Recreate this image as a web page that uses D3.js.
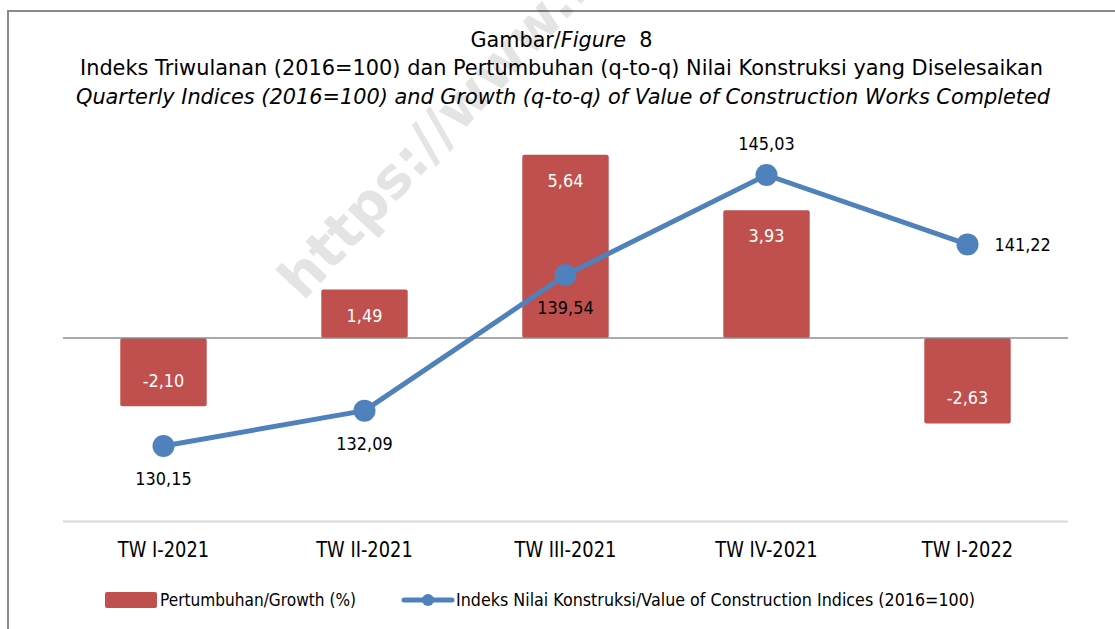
<!DOCTYPE html>
<html>
<head>
<meta charset="utf-8">
<script src="https://cdn.jsdelivr.net/npm/d3@7"></script>
<style>
  body { margin: 0; background: #fff; }
  svg text { font-family: Tahoma, "DejaVu Sans", sans-serif; }
</style>
</head>
<body>
<div id="chart"></div>
<script>
// quarters on the x axis
var quarters = ["TW I-2021", "TW II-2021", "TW III-2021", "TW IV-2021", "TW I-2022"];
// q-to-q growth (%), bars
var growth = [-2.10, 1.49, 5.64, 3.93, -2.63];
// construction value index (2016=100), line
var indices = [130.15, 132.09, 139.54, 145.03, 141.22];
// where each index label sits relative to its point
var indexLabelPos = ["below", "below", "below", "above", "right"];

var W = 1115, H = 629;
var RED = "#C0504D", BLUE = "#4F81BD";
var SQUEEZE = 0.87; // Tahoma is a narrower Verdana, DejaVu Sans stands in for it

// Indonesian number style: comma decimal, plain hyphen for negatives
var idLocale = d3.formatLocale({decimal: ",", thousands: ".", grouping: [3], currency: ["", ""], minus: "-"});
var fmt = idLocale.format(".2f");

var svg = d3.select("#chart").append("svg")
    .attr("width", W)
    .attr("height", H);

// outer frame (only left and top visible in the crop)
svg.append("rect")
    .attr("x", 8).attr("y", 11)
    .attr("width", 1300).attr("height", 800)
    .attr("fill", "none")
    .attr("stroke", "#8a8a8a")
    .attr("stroke-width", 2);

// squeeze text horizontally, to a given width or by the default factor
function squeeze(sel, width) {
  sel.each(function() {
    var len = this.getComputedTextLength();
    d3.select(this)
      .attr("textLength", width || len * SQUEEZE)
      .attr("lengthAdjust", "spacingAndGlyphs");
  });
}

// --- watermark
svg.append("text")
    .attr("transform", "translate(303,302) rotate(-47)")
    .attr("font-size", 56)
    .attr("font-weight", "bold")
    .attr("fill", "#000")
    .attr("opacity", 0.1)
    .text("https://www.bps.go.id");

// --- title
var t1 = svg.append("text").attr("x", 561.5).attr("y", 47)
    .attr("text-anchor", "middle").attr("font-size", 22).attr("fill", "#000")
    .attr("xml:space", "preserve");
t1.append("tspan").text("Gambar/");
t1.append("tspan").attr("font-style", "italic").text("Figure");
t1.append("tspan").text("  8");
squeeze(t1, 182);

var t2 = svg.append("text").attr("x", 561.5).attr("y", 75)
    .attr("text-anchor", "middle").attr("font-size", 22).attr("fill", "#000")
    .text("Indeks Triwulanan (2016=100) dan Pertumbuhan (q-to-q) Nilai Konstruksi yang Diselesaikan");
squeeze(t2, 963);

var t3 = svg.append("text").attr("x", 563).attr("y", 104)
    .attr("text-anchor", "middle").attr("font-size", 22).attr("fill", "#000")
    .attr("font-style", "italic")
    .text("Quarterly Indices (2016=100) and Growth (q-to-q) of Value of Construction Works Completed");
squeeze(t3, 974);

// --- scales
var x = d3.scaleBand().domain(quarters).range([63, 1068]).padding(0);
var yBar = d3.scaleLinear().domain([-5.63, 5.63]).range([521, 155]);
var yLine = d3.scaleLinear().domain([120, 150]).range([630.8, 84.5]);
var barW = x.bandwidth() * 0.43;
function cx(d) { return x(d) + x.bandwidth() / 2; }

// bottom category axis line
svg.append("line")
    .attr("x1", x.range()[0]).attr("x2", x.range()[1])
    .attr("y1", 521.5).attr("y2", 521.5)
    .attr("stroke", "#d9d9d9").attr("stroke-width", 2);

// category labels
svg.append("g").selectAll("text")
    .data(quarters)
  .enter().append("text")
    .attr("x", function(d) { return cx(d); })
    .attr("y", 557)
    .attr("text-anchor", "middle")
    .attr("font-size", 20.5)
    .attr("fill", "#000")
    .text(function(d) { return d; })
    .call(squeeze);

// --- bars
var bars = svg.append("g");
bars.selectAll("rect")
    .data(growth)
  .enter().append("rect")
    .attr("x", function(d, i) { return cx(quarters[i]) - barW / 2; })
    .attr("y", function(d) { return yBar(Math.max(0, d)); })
    .attr("width", barW)
    .attr("height", function(d) { return Math.abs(yBar(d) - yBar(0)); })
    .attr("rx", 2)
    .attr("fill", RED);

// zero line drawn over the bars
svg.append("line")
    .attr("x1", x.range()[0]).attr("x2", x.range()[1])
    .attr("y1", yBar(0)).attr("y2", yBar(0))
    .attr("stroke", "#8c8c8c").attr("stroke-width", 1.5);

bars.selectAll("text")
    .data(growth)
  .enter().append("text")
    .attr("x", function(d, i) { return cx(quarters[i]); })
    .attr("y", function(d) { return d >= 0 ? yBar(d) + 32 : yBar(d) - 19; })
    .attr("text-anchor", "middle")
    .attr("font-size", 18.5)
    .attr("fill", "#fff")
    .text(fmt)
    .call(squeeze);

// --- index line
var line = d3.line()
    .x(function(d, i) { return cx(quarters[i]); })
    .y(function(d) { return yLine(d); });

svg.append("path")
    .datum(indices)
    .attr("d", line)
    .attr("fill", "none")
    .attr("stroke", BLUE)
    .attr("stroke-width", 5)
    .attr("stroke-linejoin", "round");

svg.append("g").selectAll("circle")
    .data(indices)
  .enter().append("circle")
    .attr("cx", function(d, i) { return cx(quarters[i]); })
    .attr("cy", function(d) { return yLine(d); })
    .attr("r", 11)
    .attr("fill", BLUE);

svg.append("g").selectAll("text")
    .data(indices)
  .enter().append("text")
    .attr("x", function(d, i) {
      return indexLabelPos[i] === "right" ? cx(quarters[i]) + 27 : cx(quarters[i]);
    })
    .attr("y", function(d, i) {
      var p = indexLabelPos[i];
      if (p === "above") return yLine(d) - 25;
      if (p === "right") return yLine(d) + 7;
      return yLine(d) + 39;
    })
    .attr("text-anchor", function(d, i) { return indexLabelPos[i] === "right" ? "start" : "middle"; })
    .attr("font-size", 18.5)
    .attr("fill", "#000")
    .text(fmt)
    .call(squeeze);

// --- legend
var lg = svg.append("g");
lg.append("rect")
    .attr("x", 105).attr("y", 592)
    .attr("width", 52).attr("height", 16)
    .attr("rx", 2)
    .attr("fill", RED);
lg.append("text")
    .attr("x", 160).attr("y", 606)
    .attr("font-size", 17.5).attr("fill", "#000")
    .text("Pertumbuhan/Growth (%)")
    .call(squeeze, 196);

lg.append("line")
    .attr("x1", 404).attr("x2", 452)
    .attr("y1", 600).attr("y2", 600)
    .attr("stroke", BLUE).attr("stroke-width", 5)
    .attr("stroke-linecap", "round");
lg.append("circle")
    .attr("cx", 428).attr("cy", 600).attr("r", 6)
    .attr("fill", BLUE);
lg.append("text")
    .attr("x", 456).attr("y", 606)
    .attr("font-size", 17.5).attr("fill", "#000")
    .text("Indeks Nilai Konstruksi/Value of Construction Indices (2016=100)")
    .call(squeeze, 519);
</script>
</body>
</html>
